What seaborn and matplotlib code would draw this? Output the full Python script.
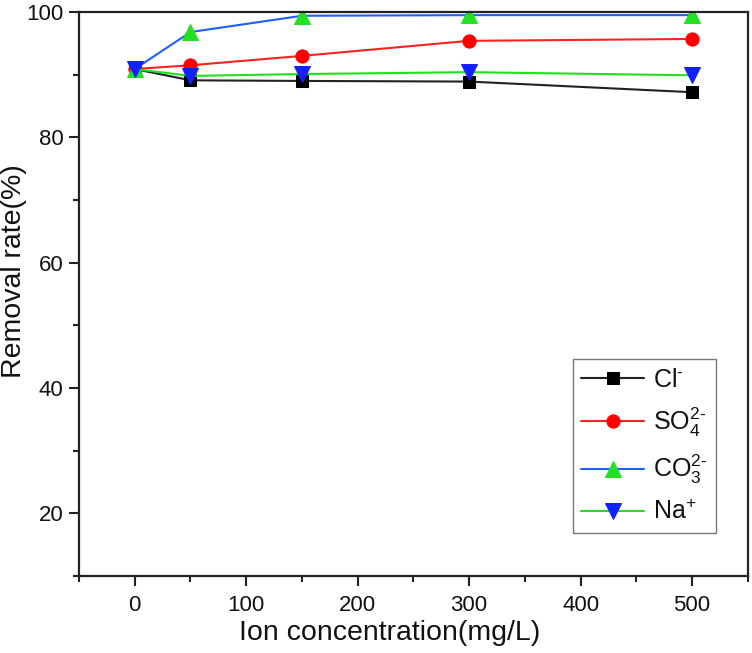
import pandas as pd
import matplotlib.pyplot as plt
from matplotlib.ticker import MultipleLocator
import seaborn as sns

# Data
conc = [0, 50, 150, 300, 500]
cl = [90.9, 89.1, 89.0, 88.9, 87.2]
so4 = [90.9, 91.5, 93.0, 95.4, 95.7]
co3 = [90.9, 96.8, 99.4, 99.5, 99.5]
na = [90.9, 89.8, 90.1, 90.4, 89.9]

labels = ['Cl$^{\\text{-}}$', 'SO$_4^{\\text{2-}}$', 'CO$_3^{\\text{2-}}$', 'Na$^{+}$']
line_colors = ['#222222', '#ff2020', '#1f5fff', '#20e020']
marker_colors = ['black', 'red', '#22e022', '#1020ff']
markers = ['s', 'o', '^', 'v']
marker_sizes = [8.5, 9.5, 11, 11]

sns.set_theme(style='ticks')
plt.rcParams['font.family'] = ['Liberation Sans', 'DejaVu Sans']
plt.rcParams['mathtext.fontset'] = 'custom'
plt.rcParams['mathtext.rm'] = 'Liberation Sans'
plt.rcParams['mathtext.it'] = 'Liberation Sans'
plt.rcParams['mathtext.default'] = 'regular'

fig = plt.figure(figsize=(7.52, 6.53), dpi=100)
ax = fig.add_axes([0.105, 0.118, 0.8895, 0.8636])

series = [cl, so4, co3, na]
for vals, lab, lc, mc, m, ms in zip(series, labels, line_colors, marker_colors, markers, marker_sizes):
    df = pd.DataFrame({'conc': conc, 'rate': vals})
    sns.lineplot(
        data=df,
        x='conc',
        y='rate',
        ax=ax,
        color=lc,
        linewidth=1.5,
        marker=m,
        markersize=ms,
        markerfacecolor=mc,
        markeredgecolor=mc,
        label=lab
    )

ax.set_xlim(-50, 550)
ax.set_ylim(10, 100)
ax.xaxis.set_major_locator(MultipleLocator(100))
ax.xaxis.set_minor_locator(MultipleLocator(50))
ax.yaxis.set_major_locator(MultipleLocator(20))
ax.yaxis.set_minor_locator(MultipleLocator(10))
ax.tick_params(which='major', direction='out', length=7, width=1.5, labelsize=16, color='#222222', labelcolor='#111111')
ax.tick_params(which='minor', direction='out', length=4, width=1.5, color='#222222')
ax.tick_params(axis='x', which='major', pad=7)
ax.tick_params(axis='y', which='major', pad=4)
for sp in ax.spines.values():
    sp.set_linewidth(1.6)
    sp.set_color('#222222')

ax.set_xlabel('Ion concentration(mg/L)', fontsize=20.5, labelpad=0, color='#111111')
ax.set_ylabel('Removal rate(%)', fontsize=20.5, labelpad=0, color='#111111')
ax.xaxis.set_label_coords(0.465, -0.078)
ax.yaxis.set_label_coords(-0.077, 0.54)

leg = ax.legend(
    loc='lower right',
    bbox_to_anchor=(0.952, 0.076),
    borderaxespad=0,
    fontsize=18,
    frameon=True,
    fancybox=False,
    edgecolor='#555555',
    handlelength=2.5,
    handletextpad=0.35,
    labelspacing=0.55,
    borderpad=0.35
)
leg.get_frame().set_linewidth(1.0)
for txt in leg.get_texts():
    txt.set_color('#111111')

fig.savefig('out.png', dpi=100)
